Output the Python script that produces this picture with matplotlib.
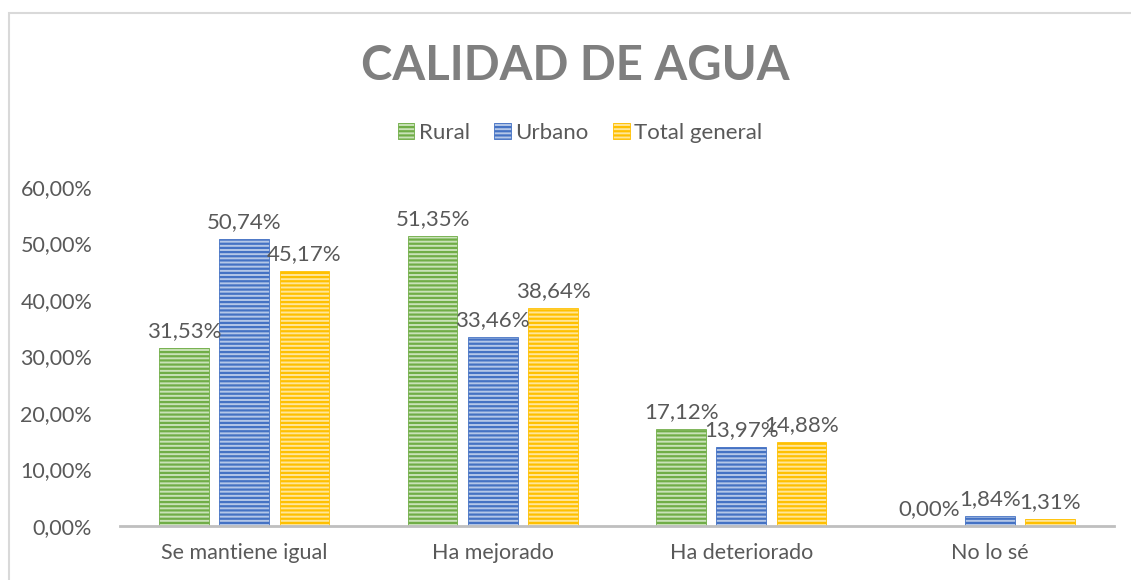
import matplotlib.pyplot as plt
import numpy as np
from matplotlib.patches import Rectangle

categorias = ['Se mantiene igual', 'Ha mejorado', 'Ha deteriorado', 'No lo sé']
series = ['Rural', 'Urbano', 'Total general']
rural = [31.53, 51.35, 17.12, 0.00]
urbano = [50.74, 33.46, 13.97, 1.84]
total = [45.17, 38.64, 14.88, 1.31]

plt.rcParams['font.family'] = ['Lato', 'DejaVu Sans']
plt.rcParams['hatch.linewidth'] = 1.6

colores = ['#70AD47', '#4472C4', '#FFC000']
claros = ['#C9E2B8', '#B4C7E7', '#FFE699']
texto = '#595959'

fig = plt.figure(figsize=(11.31, 5.80), dpi=100)
ax = fig.add_axes([0.1061, 0.0931, 0.8789, 0.5845])

# borde del grafico
fig.patches.append(Rectangle((9 / 1131, -0.1), 1.2, 1 - 13 / 580 + 0.1,
                             transform=fig.transFigure, fill=False,
                             edgecolor='#D9D9D9', linewidth=1.5))

x = np.arange(len(categorias))
ancho = 0.2
paso = 0.242
for i, (nombre, vals) in enumerate(zip(series, [rural, urbano, total])):
    v = np.array(vals) / 100
    pos = x + (i - 1) * paso
    ax.bar(pos, v, ancho, facecolor=claros[i], edgecolor=colores[i],
           hatch='----', linewidth=0.6, label=nombre)
    for px, py, t in zip(pos, v, vals):
        ax.annotate(f'{t:.2f}%'.replace('.', ','), (px, py),
                    xytext=(0, 5), textcoords='offset points',
                    ha='center', va='bottom', fontsize=16, color=texto)

ax.set_xlim(-0.5, len(categorias) - 0.5)
ax.set_ylim(0, 0.6)
ax.set_yticks(np.arange(0, 0.61, 0.1))
ax.set_yticklabels([f'{t * 100:.2f}%'.replace('.', ',') for t in np.arange(0, 0.61, 0.1)])
ax.set_xticks(x)
ax.set_xticklabels(categorias)
ax.tick_params(axis='both', length=0, labelsize=15.5, colors=texto)
ax.tick_params(axis='y', pad=20)
ax.tick_params(axis='x', pad=12)
for s in ['top', 'right', 'left']:
    ax.spines[s].set_visible(False)
ax.spines['bottom'].set_color('#BFBFBF')
ax.spines['bottom'].set_linewidth(2)

fig.text(575 / 1131, 1 - 66 / 580, 'CALIDAD DE AGUA', ha='center', va='center',
         fontsize=34, fontweight='bold', color='#7F7F7F')

leg = ax.legend(loc='center', bbox_to_anchor=(580 / 1131, 1 - 133 / 580),
                bbox_transform=fig.transFigure, ncol=3, frameon=False,
                fontsize=16, handlelength=0.75, handleheight=0.75,
                handletextpad=0.2, columnspacing=1.1, labelcolor=texto)

fig.savefig('out.png', dpi=100)
